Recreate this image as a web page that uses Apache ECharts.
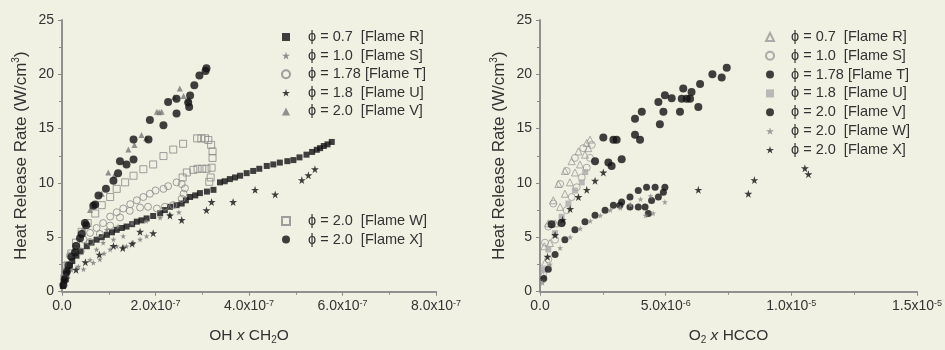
<!DOCTYPE html>
<html>
<head>
<meta charset="utf-8">
<script src="https://cdn.jsdelivr.net/npm/echarts@6/dist/echarts.min.js"></script>
<style>
html,body{margin:0;padding:0;background:#F0F0E3;}
#c{width:945px;height:350px;filter:blur(0.5px);}
</style>
</head>
<body>
<div id="c"></div>
<script>
// ---------- legend names ----------
const flameNames = ['ϕ = 0.7  [Flame R]','ϕ = 1.0  [Flame S]','ϕ = 1.78 [Flame T]','ϕ = 1.8  [Flame U]','ϕ = 2.0  [Flame V]','ϕ = 2.0  [Flame W]','ϕ = 2.0  [Flame X]'];

// ---------- tick labels ----------
const leftXTicks = [['0.0',''],['2.0x10','-7'],['4.0x10','-7'],['6.0x10','-7'],['8.0x10','-7']];
const rightXTicks = [['0.0',''],['5.0x10','-6'],['1.0x10','-5'],['1.5x10','-5']];
const yTicks = ['0','5','10','15','20','25'];

// ---------- LEFT panel: OH x CH2O  vs HRR ----------
const L_R = [[0.02e-7,0.5],[0.04e-7,0.9],[0.06e-7,1.2],[0.09e-7,1.6],[0.12e-7,2.0],[0.17e-7,2.4],[0.22e-7,2.8],[0.31e-7,3.3],[0.4e-7,3.7],[0.53e-7,4.17],[0.63e-7,4.5],[0.74e-7,4.77],[0.85e-7,5.0],[0.96e-7,5.22],[1.07e-7,5.45],[1.17e-7,5.68],[1.28e-7,5.85],[1.38e-7,5.98],[1.5e-7,6.2],[1.6e-7,6.43],[1.7e-7,6.55],[1.81e-7,6.73],[1.95e-7,6.95],[2.1e-7,7.2],[2.2e-7,7.5],[2.31e-7,7.8],[2.45e-7,7.95],[2.56e-7,8.1],[2.65e-7,8.4],[2.74e-7,8.7],[2.85e-7,8.85],[2.95e-7,9.06],[3.1e-7,9.2],[3.24e-7,9.36],[3.38e-7,10.05],[3.48e-7,10.15],[3.59e-7,10.35],[3.7e-7,10.5],[3.81e-7,10.66],[3.95e-7,10.9],[4.09e-7,11.1],[4.22e-7,11.3],[4.38e-7,11.56],[4.52e-7,11.7],[4.66e-7,11.87],[4.82e-7,12.0],[4.95e-7,12.1],[5.08e-7,12.35],[5.23e-7,12.6],[5.35e-7,12.85],[5.45e-7,13.05],[5.52e-7,13.2],[5.6e-7,13.4],[5.68e-7,13.55],[5.77e-7,13.77]];
const L_S = [[0.04e-7,0.7],[0.1e-7,1.5],[0.2e-7,2.0],[0.35e-7,2.3],[0.46e-7,2.05],[0.6e-7,2.9],[0.67e-7,2.65],[0.81e-7,2.96],[0.9e-7,3.5],[1.03e-7,3.87],[1.17e-7,4.17],[1.31e-7,4.1],[1.38e-7,4.17],[1.53e-7,4.5],[1.67e-7,4.8],[1.81e-7,5.1],[1.31e-7,5.1],[1.1e-7,4.8],[0.88e-7,4.5],[0.74e-7,3.87],[0.96e-7,5.68],[1.2e-7,6.0],[1.5e-7,6.3],[1.8e-7,6.5],[2.1e-7,6.8],[2.3e-7,7.1],[2.5e-7,7.3]];
const L_T = [[0.07e-7,2.4],[0.17e-7,3.3],[0.31e-7,4.2],[0.46e-7,4.8],[0.6e-7,5.4],[0.74e-7,5.85],[0.88e-7,6.3],[1.03e-7,6.9],[1.17e-7,7.3],[1.31e-7,7.64],[1.46e-7,8.04],[1.6e-7,8.4],[1.74e-7,8.7],[1.88e-7,9.0],[2.0e-7,9.3],[2.17e-7,9.45],[2.27e-7,9.7],[2.45e-7,10.05],[2.56e-7,9.9],[2.63e-7,9.5],[2.6e-7,9.0],[2.56e-7,8.54],[2.38e-7,7.95],[2.2e-7,7.8],[2.03e-7,7.64],[1.84e-7,7.8],[1.67e-7,7.73],[1.45e-7,7.43],[1.24e-7,6.82],[1.03e-7,6.07],[0.81e-7,5.3],[0.6e-7,4.56],[0.4e-7,3.7]];
const L_U = [[0.1e-7,1.2],[0.3e-7,2.0],[0.5e-7,2.7],[0.8e-7,3.4],[1.1e-7,4.2],[1.3e-7,4.0],[1.5e-7,4.4],[1.67e-7,5.5],[1.95e-7,5.37],[2.31e-7,7.0],[2.56e-7,6.58],[3.09e-7,7.49],[3.2e-7,8.24],[3.66e-7,8.24],[4.13e-7,9.36],[4.56e-7,8.94],[5.13e-7,10.26],[5.27e-7,10.7],[5.41e-7,11.26]];
const L_V = [[0.08e-7,1.5],[0.15e-7,2.6],[0.25e-7,3.9],[0.45e-7,5.8],[0.6e-7,7.5],[0.85e-7,9.0],[0.99e-7,10.96],[1.12e-7,10.7],[1.42e-7,13.07],[1.55e-7,13.5],[1.7e-7,14.4],[1.8e-7,14.1],[2.03e-7,16.55],[2.08e-7,16.5],[2.13e-7,16.55],[2.4e-7,17.9],[2.52e-7,18.7],[2.6e-7,18.0],[2.68e-7,17.6],[2.72e-7,17.7]];
const L_W = [[0.05e-7,1.2],[0.12e-7,2.4],[0.2e-7,3.5],[0.3e-7,4.5],[0.42e-7,5.5],[0.55e-7,6.3],[0.71e-7,7.18],[0.85e-7,7.95],[1.03e-7,8.7],[1.17e-7,9.45],[1.35e-7,10.05],[1.53e-7,10.66],[1.74e-7,11.26],[1.95e-7,11.7],[2.17e-7,12.47],[2.38e-7,13.07],[2.59e-7,13.6],[2.89e-7,14.1],[2.98e-7,14.1],[3.06e-7,14.1],[3.13e-7,13.95],[3.19e-7,13.5],[3.22e-7,12.9],[3.22e-7,12.3],[3.2e-7,11.4],[3.18e-7,10.5],[3.15e-7,10.1],[3.09e-7,11.3],[3.0e-7,11.3],[2.9e-7,11.3],[2.81e-7,11.2],[2.67e-7,10.96],[2.58e-7,10.5]];
const L_X = [[0.03e-7,0.6],[0.06e-7,1.1],[0.1e-7,1.8],[0.14e-7,2.4],[0.2e-7,3.2],[0.28e-7,3.6],[0.3e-7,4.2],[0.385e-7,4.9],[0.42e-7,5.3],[0.49e-7,6.3],[0.52e-7,6.1],[0.67e-7,7.9],[0.71e-7,8.0],[0.78e-7,8.85],[0.94e-7,9.45],[1.1e-7,10.2],[1.2e-7,10.9],[1.24e-7,12.0],[1.38e-7,11.7],[1.53e-7,12.15],[1.53e-7,14.0],[1.85e-7,14.0],[1.88e-7,15.8],[2.17e-7,15.3],[2.27e-7,17.45],[2.45e-7,16.4],[2.45e-7,17.75],[2.72e-7,17.0],[2.74e-7,18.05],[2.83e-7,19.0],[2.94e-7,19.9],[3.09e-7,20.56],[3.07e-7,20.3],[2.7e-7,17.4]];

// ---------- RIGHT panel: O2 x HCCO vs HRR ----------
const R_R = [[0.1e-6,1.5],[0.2e-6,2.66],[0.4e-6,4.47],[0.6e-6,6.28],[0.8e-6,7.79],[0.99e-6,9.0],[1.19e-6,10.05],[1.39e-6,10.96],[1.59e-6,11.7],[1.79e-6,12.6],[1.92e-6,13.2],[1.99e-6,13.98],[1.86e-6,13.68],[1.53e-6,12.9],[1.26e-6,12.0],[0.99e-6,11.1],[0.73e-6,9.9],[0.53e-6,8.4],[0.33e-6,6.28],[0.17e-6,4.17]];
const R_S = [[0.12e-6,1.6],[0.33e-6,2.96],[0.6e-6,4.77],[0.86e-6,6.28],[1.06e-6,7.49],[1.26e-6,8.7],[1.46e-6,9.6],[1.66e-6,10.5],[1.86e-6,11.4],[1.99e-6,12.3],[2.06e-6,13.5],[1.72e-6,13.2],[1.39e-6,12.3],[1.06e-6,11.1],[0.8e-6,9.9],[0.53e-6,8.1],[0.33e-6,5.98],[0.2e-6,4.5]];
const R_T = [[0.46e-6,6.2],[0.86e-6,6.3],[2.19e-6,12.0],[2.52e-6,14.19],[2.72e-6,11.87],[2.85e-6,11.56],[2.92e-6,13.98],[3.05e-6,13.98],[3.25e-6,12.17],[3.78e-6,14.43],[3.98e-6,13.98],[3.78e-6,15.9],[4.05e-6,16.55],[4.71e-6,17.45],[4.77e-6,15.4],[4.91e-6,16.55],[4.97e-6,18.06],[5.24e-6,17.8],[5.57e-6,16.55],[5.64e-6,17.75],[5.7e-6,18.7],[5.84e-6,17.75],[5.97e-6,17.75],[6.03e-6,18.36],[6.3e-6,17.0],[6.37e-6,19.1],[6.86e-6,20.0],[7.23e-6,19.7],[7.43e-6,20.6]];
const R_U = [[0.15e-6,2.0],[0.33e-6,3.86],[0.6e-6,5.37],[0.86e-6,6.88],[1.13e-6,8.1],[1.39e-6,9.3],[1.66e-6,10.05],[1.8e-6,11.0]];
const R_V = [[0.15e-6,1.2],[0.33e-6,2.05],[0.6e-6,3.41],[0.99e-6,4.77],[1.39e-6,5.68],[1.79e-6,6.43],[2.19e-6,7.03],[2.59e-6,7.49],[2.92e-6,7.94],[3.25e-6,8.24],[3.58e-6,8.7],[3.91e-6,9.3],[4.24e-6,9.6],[4.58e-6,9.6],[4.97e-6,9.6],[4.91e-6,9.15],[4.71e-6,8.7],[4.44e-6,8.39],[4.31e-6,7.19],[4.18e-6,7.79],[3.91e-6,7.79],[3.58e-6,7.79],[3.18e-6,7.94]];
const R_W = [[0.1e-6,0.8],[0.4e-6,2.5],[0.8e-6,4.0],[1.2e-6,5.0],[1.6e-6,5.8],[2.0e-6,6.5],[2.4e-6,7.0],[2.8e-6,7.5],[3.2e-6,7.7],[3.6e-6,8.0],[4.0e-6,8.5],[4.4e-6,8.8],[4.97e-6,8.24],[4.5e-6,7.2],[4.2e-6,7.0]];
const R_X = [[0.3e-6,3.2],[0.6e-6,5.2],[0.9e-6,6.6],[1.2e-6,7.6],[1.53e-6,8.7],[1.86e-6,9.36],[2.19e-6,10.2],[2.52e-6,10.96],[6.3e-6,9.36],[8.29e-6,9.0],[8.53e-6,10.26],[10.54e-6,11.35],[10.68e-6,10.8]];

// ---------- styling ----------
const STAR = 'path://M50,0 L61,35 L98,35 L68,57 L79,91 L50,70 L21,91 L32,57 L2,35 L39,35 Z';
const AX = '#8a8a8a';
const TXT = '#333333';
const FONT = 'Liberation Sans, Arial, sans-serif';

function fill(c){return {color:c};}
function hollow(c){return {color:'rgba(0,0,0,0)',borderColor:c,borderWidth:1};}

const leftStyles = [
  {symbol:'rect',size:6,style:fill('#111')},
  {symbol:STAR,size:6,style:fill('#777')},
  {symbol:'circle',size:7,style:hollow('#888')},
  {symbol:STAR,size:8,style:fill('#111')},
  {symbol:'triangle',size:6,style:fill('#777')},
  {symbol:'rect',size:7,style:hollow('#888')},
  {symbol:'circle',size:8,style:fill('#111')}
];
const rightStyles = [
  {symbol:'triangle',size:7,style:hollow('#999')},
  {symbol:'circle',size:7,style:hollow('#999')},
  {symbol:'circle',size:8,style:fill('#111')},
  {symbol:'rect',size:6,style:fill('#aaa')},
  {symbol:'circle',size:7,style:fill('#111')},
  {symbol:STAR,size:6,style:fill('#888')},
  {symbol:STAR,size:8,style:fill('#111')}
];
const leftData = [L_R,L_S,L_T,L_U,L_V,L_W,L_X];
const rightData = [R_R,R_S,R_T,R_U,R_V,R_W,R_X];

const tickRich = {
  m:{fontSize:14,lineHeight:17,color:TXT,fontFamily:FONT,verticalAlign:'top'},
  e:{fontSize:9,lineHeight:9,color:TXT,fontFamily:FONT,verticalAlign:'top'}
};
function nameRich(fs){
  return {
    n:{fontSize:fs,lineHeight:fs+3,color:TXT,fontFamily:FONT},
    i:{fontSize:fs,lineHeight:fs+3,color:TXT,fontFamily:FONT,fontStyle:'italic'},
    s:{fontSize:10,lineHeight:10,color:TXT,fontFamily:FONT,verticalAlign:'top'},
    b:{fontSize:10,lineHeight:10,color:TXT,fontFamily:FONT,verticalAlign:'bottom'}
  };
}

function xAxes(grid, max, interval, ticks, nameStr){
  return [{
    gridIndex:grid,type:'value',min:0,max:max,interval:interval,position:'bottom',
    axisLine:{lineStyle:{color:AX,width:1.5}},
    axisTick:{show:true,inside:false,length:4,lineStyle:{color:AX}},
    minorTick:{show:true,splitNumber:2,length:3,lineStyle:{color:AX}},
    splitLine:{show:false},
    axisLabel:{margin:8,rich:tickRich,formatter:function(v,i){const t=ticks[i]||['',''];return t[1]?'{m|'+t[0]+'}{e|'+t[1]+'}':'{m|'+t[0]+'}';}},
    name:nameStr,nameLocation:'middle',nameGap:35,nameTextStyle:{rich:nameRich(15.5)}
  },{
    gridIndex:grid,type:'value',min:0,max:max,interval:interval,position:'top',
    axisLine:{lineStyle:{color:AX,width:1.5}},
    axisTick:{show:true,inside:true,length:4,lineStyle:{color:AX}},
    minorTick:{show:true,splitNumber:2,length:3,lineStyle:{color:AX}},
    splitLine:{show:false},axisLabel:{show:false}
  }];
}
function yAxes(grid){
  return [{
    gridIndex:grid,type:'value',min:0,max:25,interval:5,position:'left',
    axisLine:{lineStyle:{color:AX,width:1.5}},
    axisTick:{show:true,inside:false,length:4,lineStyle:{color:AX}},
    minorTick:{show:true,splitNumber:2,length:3,lineStyle:{color:AX}},
    splitLine:{show:false},
    axisLabel:{margin:8,fontSize:14,color:TXT,fontFamily:FONT,formatter:function(v,i){return yTicks[i];}},
    name:'{n|Heat Release Rate (W/cm}{s|3}{n|)}',nameLocation:'middle',nameGap:31,nameRotate:90,nameTextStyle:{rich:nameRich(17)}
  },{
    gridIndex:grid,type:'value',min:0,max:25,interval:5,position:'right',
    axisLine:{lineStyle:{color:AX,width:1.5}},
    axisTick:{show:true,inside:true,length:4,lineStyle:{color:AX}},
    minorTick:{show:true,splitNumber:2,length:3,lineStyle:{color:AX}},
    splitLine:{show:false},axisLabel:{show:false}
  }];
}

const series = [];
flameNames.forEach(function(n,k){
  series.push({name:'L:'+n,type:'scatter',xAxisIndex:0,yAxisIndex:0,data:leftData[k],
    symbol:leftStyles[k].symbol,symbolSize:leftStyles[k].size,itemStyle:leftStyles[k].style,animation:false});
});
flameNames.forEach(function(n,k){
  series.push({name:'R:'+n,type:'scatter',xAxisIndex:2,yAxisIndex:2,data:rightData[k],
    symbol:rightStyles[k].symbol,symbolSize:rightStyles[k].size,itemStyle:rightStyles[k].style,animation:false});
});

function legendBase(padLeft){
  return {orient:'vertical',selectedMode:false,itemWidth:8,itemHeight:8,itemGap:3.6,padding:0,
    textStyle:{fontSize:14.5,lineHeight:15,color:TXT,fontFamily:FONT,padding:[0,0,0,padLeft]},
    formatter:function(n){return n.slice(2);}};
}

const option = {
  backgroundColor:'#F0F0E3',
  animation:false,
  grid:[{left:62,top:20,width:374,height:276},{left:540,top:20,width:377,height:276}],
  xAxis:[].concat(
    xAxes(0,8e-7,2e-7,leftXTicks,'{n|OH }{i|x}{n| CH}{b|2}{n|O}'),
    xAxes(1,1.5e-5,5e-6,rightXTicks,'{n|O}{b|2}{n| }{i|x}{n| HCCO}')
  ),
  yAxis:[].concat(yAxes(0),yAxes(1)),
  legend:[
    Object.assign(legendBase(13),{left:281,top:29.5,data:flameNames.slice(0,5).map(function(n){return 'L:'+n;})}),
    Object.assign(legendBase(13),{left:281,top:213.5,data:flameNames.slice(5).map(function(n){return 'L:'+n;})}),
    Object.assign(legendBase(12),{left:765,top:29.5,itemGap:3.8,data:flameNames.map(function(n){return 'R:'+n;})})
  ],
  series:series
};
const chart = echarts.init(document.getElementById('c'),null,{renderer:'canvas'});
chart.setOption(option);
</script>
</body>
</html>
